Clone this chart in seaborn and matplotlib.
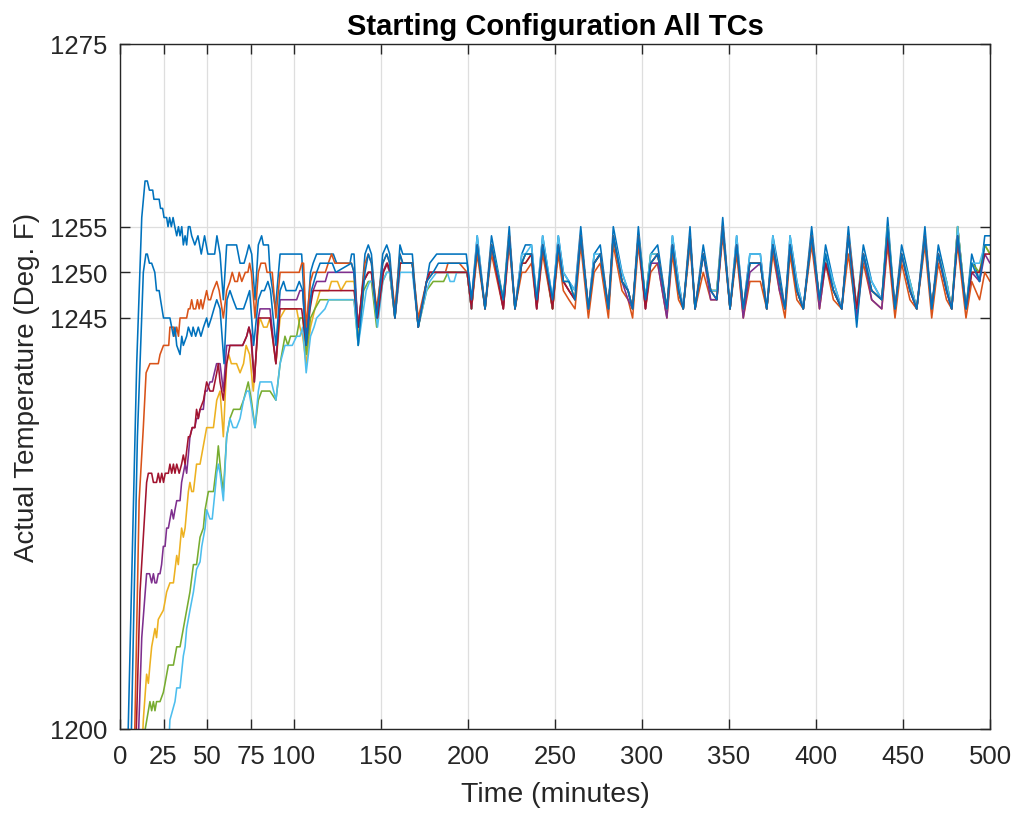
import matplotlib
matplotlib.use("Agg")
import matplotlib.pyplot as plt
import seaborn as sns
import pandas as pd

# ---------------- data ----------------
SERIES = ["TC1", "TC2", "TC3", "TC4", "TC5", "TC6", "TC7", "TC8"]
COLORS = ["#0072BD", "#D95319", "#EDB120", "#7E2F8E", "#77AC30", "#4DBEEE", "#A2142F", "#0072BD"]

X_TICKS = [0, 25, 50, 75, 100, 150, 200, 250, 300, 350, 400, 450, 500]
Y_TICKS = [1200, 1245, 1250, 1255, 1275]

# start-up portion (time, temperature)
TC1_EARLY = [(3.5,1190),(9.6,1240),(12.5,1256),(14.4,1260),(15.7,1260),(16.9,1259),(18.8,1259),(19.5,1258),(22.5,1258),
             (23.3,1257),(24.5,1257),(25.3,1256),(26.8,1256),(27.6,1255),(28.5,1256),(29.5,1255),(30.5,1256),(31.5,1255),
             (32.6,1254),(33.6,1255),(34.5,1254),(35.5,1255),(36.4,1253),(37.4,1254),(38.3,1253),(39.3,1255),(40.2,1255),
             (41.2,1254),(43,1253),(44.8,1254),(46.7,1252),(48.6,1254),(50.5,1252),(54.4,1252),(55.7,1254),(57.5,1252),
             (59.4,1247),(61.3,1253),(67,1253),(69,1251),(71.3,1251),(72.8,1252),(74.1,1253),(75.7,1252),(77.6,1247),
             (79.5,1253),(81.4,1254),(82.4,1253),(85.3,1253),(86.2,1250),(89.3,1246),(92,1252),(104.4,1252),(107,1243),
             (109.5,1250),(111,1251),(113,1252),(122.6,1252),(124.5,1251),(132.2,1251),(133.1,1252),(134.5,1252),
             (136.9,1243),(140.8,1252),(142.7,1253),(144.5,1252),(147.5,1245),(151,1252),(153.3,1253),(155,1252),
             (158,1245),(160.9,1253),(162.5,1252),(168,1252),(171.4,1244),(176.2,1249),(178,1251),(182,1252),(199,1252)]
TC2_EARLY = [(7.5,1190),(11,1225),(13.4,1233),(15,1239),(17.2,1240),(22,1240),(23,1241),(25,1242),(28,1242),(28.7,1244),
             (30.7,1244),(31.6,1243),(32.6,1244),(33.6,1243),(34.5,1245),(38.3,1245),(39.3,1246),(40.2,1246),(41.2,1247),
             (42.2,1246),(43.5,1246),(44.5,1247),(45.5,1246),(46.5,1247),(47.5,1246),(48.6,1247),(49.8,1248),(50.8,1247),
             (52,1247),(53.5,1248),(55.6,1249),(57,1248),(59.4,1245),(61.3,1248),(63.2,1249),(64.5,1250),(66,1249),
             (67.5,1249),(68.5,1250),(70,1249),(72,1250),(73.5,1250),(74.5,1251),(75.5,1250),(77.6,1245),(79.5,1250),
             (81,1251),(83.5,1251),(84.5,1250),(87.5,1250),(89.6,1245),(92,1250),(103,1250),(104.5,1251),(105.5,1251),
             (107,1244),(109.5,1249),(111,1250),(118,1250),(119.7,1251),(121.6,1252),(123.5,1251),(133,1251),
             (134.5,1250),(136.9,1244),(140.8,1251),(142.7,1252),(144.5,1251),(147.5,1246),(151,1251),(153.3,1252),
             (155,1251),(158,1246),(160.9,1252),(162.5,1251),(168,1251),(171.4,1245),(176.2,1249),(180,1250),(187,1250),
             (188.5,1251),(195,1251),(199.5,1250)]
TC3_EARLY = [(11,1190),(13.4,1201),(15.3,1206),(16.3,1205),(17.2,1207),(18.2,1209),(20.1,1211),(21,1210),(22,1212),
             (24.9,1213),(25.9,1214),(26.8,1215),(28.7,1216),(30.7,1216),(32.6,1219),(33.5,1218),(35.4,1222),(36.4,1221),
             (37.4,1222),(39.3,1226),(40.2,1227),(41.2,1226),(42.2,1226),(44,1229),(46,1229),(47.9,1231),(49.8,1233),
             (53.7,1233),(55.6,1236),(57.5,1237),(59.4,1232),(61.3,1240),(62.5,1241),(64,1240),(67,1240),(69,1239),
             (71,1240),(72.5,1242),(74.5,1241),(76.6,1237),(79.5,1244),(80.5,1245),(82.5,1244),(84.5,1244),(86.2,1245),
             (89.6,1240),(92,1245),(95,1246),(101.5,1246),(103.4,1244),(105,1243),(107,1240),(109.5,1244),(112,1246),
             (115,1248),(120,1248),(121.5,1249),(125,1249),(127,1248),(130,1249),(134.5,1249),(136.9,1243),(140,1249),
             (142.7,1250),(144.5,1250),(147.5,1245),(151,1250),(153.3,1251),(155,1250),(158,1245),(161,1251),(168,1251),
             (171.4,1244),(176.2,1249),(178,1250),(199.5,1250)]
TC4_EARLY = [(9,1190),(12.5,1210),(15.3,1217),(17,1217),(18.2,1216),(19.2,1217),(20.1,1216),(21,1216),(22,1217),(23,1217),
             (23.9,1218),(24.9,1220),(25.9,1220),(26.8,1222),(27.8,1222),(29.7,1224),(30.7,1223),(31.6,1224),(32.6,1225),
             (34.5,1225),(35.4,1227),(36.4,1228),(37.4,1229),(38.3,1228),(39.3,1230),(40.2,1232),(41.5,1233),(43,1233),
             (44,1234),(45,1234),(46,1235),(47.9,1235),(48.9,1237),(50,1237),(51.7,1238),(53,1238),(55.5,1240),
             (57.5,1240),(59.4,1237),(61.3,1242),(70.5,1242),(72.8,1243),(74.1,1244),(75.5,1243),(77.2,1238),(79.5,1245),
             (80.5,1246),(86.2,1246),(89.6,1240),(92,1247),(101.5,1247),(103.4,1248),(105,1248),(107,1242),(109.2,1247),
             (111,1248),(113,1249),(118,1249),(119.5,1250),(134.5,1250),(136.9,1244),(140,1249),(142.7,1250),(144.5,1250),
             (147.5,1245),(151,1250),(153.3,1251),(155,1250),(158,1245),(161,1251),(168,1251),(171.4,1244),(176.2,1249),
             (178,1250),(199.5,1250)]
TC5_EARLY = [(12,1190),(14.5,1200),(16.3,1202),(17.2,1203),(18.2,1202),(19.2,1203),(20.1,1202),(21,1203),(23,1203),
             (24.9,1204),(25.9,1205),(27.8,1207),(30.7,1207),(32.6,1209),(34.5,1209),(36.4,1211),(38.3,1213),(40.2,1215),
             (42.2,1218),(44,1218),(46,1221),(47.9,1222),(48.9,1224),(50.8,1226),(53.7,1226),(55.6,1229),(56.5,1231),
             (58,1228),(59.4,1226),(61.3,1232),(63.2,1234),(65.2,1235),(69,1235),(71,1236),(73.7,1238),(75.5,1236),
             (77.6,1233),(79.5,1236),(81.4,1237),(86.2,1237),(89.6,1236),(92,1240),(94.8,1243),(96.5,1242),(98,1243),
             (101.5,1243),(103.4,1245),(105,1245),(107,1241),(109.5,1245),(112,1246),(115,1247),(134.5,1247),
             (136.9,1242),(140,1248),(142.7,1249),(144.5,1249),(147.5,1244),(151,1249),(153.3,1250),(155,1250),(158,1245),
             (161,1251),(168,1251),(171.4,1244),(176.2,1248),(180,1249),(186,1249),(188.5,1250),(199.5,1250)]
TC6_EARLY = [(26,1190),(28.7,1201),(31.6,1203),(32.6,1204.5),(34.5,1204.5),(36.4,1208),(37.4,1209),(38.3,1211),(40.2,1213),
             (42.2,1215),(44,1217.5),(46,1218.3),(47,1220),(48.9,1222),(49.8,1224),(51.7,1223),(53,1223),(54.6,1226),
             (55.6,1228),(56.5,1229),(57.5,1228),(59.4,1225),(61.3,1232),(63.2,1234),(65,1233),(67,1233),(69,1234),
             (71,1236),(72.8,1237),(74.1,1237),(77.6,1233),(79.5,1237),(80.5,1238),(87,1238),(89.6,1236),(92,1240),
             (94.8,1242),(99,1242),(101.5,1243),(103.4,1243),(105,1244),(107,1239),(109.5,1243),(111.5,1244),(113,1245),
             (117.8,1246),(120,1247),(134.5,1247),(136.9,1242),(140,1246),(141.5,1248),(143.5,1249),(145,1249),(148,1244),
             (151,1249),(153.3,1250),(155,1250),(158,1245),(161,1250),(168,1250),(171.4,1244),(176.2,1248),(178,1249),
             (182,1250),(188,1250),(189.7,1249),(192,1249),(193.5,1250),(199.5,1250)]
TC7_EARLY = [(8,1190),(11.5,1215),(15.3,1227),(16.3,1228),(18.2,1228),(19.2,1227),(21,1227),(22,1228),(23,1227),(24,1228),
             (25,1227),(26,1228),(27.8,1228),(28.7,1229),(29.7,1228),(30.7,1229),(31.6,1228),(32.6,1229),(34,1228),
             (35.4,1229),(36.4,1230),(37.4,1229),(39.3,1232),(40.2,1232),(41.5,1233),(43,1233),(44,1235),(45,1234),
             (46,1235),(48,1236),(49.8,1238),(51.7,1237),(53.5,1237),(55.6,1239),(56.5,1240),(57.5,1238),(59.4,1236),
             (61.3,1240),(63.2,1242),(70.5,1242),(72.8,1243),(74.1,1244),(75.2,1243),(77.2,1238),(79.5,1245),(86.2,1245),
             (89.6,1240),(92,1246),(104.4,1246),(107,1242),(109.2,1246),(111,1248),(134.5,1248),(136.9,1244),
             (139.8,1249),(142.7,1250),(144.5,1250),(148,1245),(151.4,1250),(153.7,1251),(155.5,1250),(158,1245),
             (161,1251),(168,1251),(171.4,1244),(176.2,1249),(178,1250),(199.5,1250)]
TC8_EARLY = [(5.5,1190),(10,1232),(13.4,1250),(14.9,1252),(15.7,1252),(16.9,1251),(18.2,1251),(20,1250),(21,1248),
             (22.5,1248),(23.3,1247),(25,1245),(28.7,1245),(29.7,1244),(30.7,1243),(31.6,1244),(32.6,1242),(34.5,1241),
             (35.5,1243),(36.4,1242),(38.3,1243),(39.3,1244),(41.2,1243),(42,1244),(43.5,1243),(45,1244),(46.5,1243),
             (48,1244),(49.8,1245),(50.8,1244),(52.5,1245),(54,1246),(55.6,1247),(57.5,1246),(59.8,1240),(61.5,1247),
             (63.2,1248),(65,1247),(67,1246),(71,1246),(72.8,1247),(74.5,1248),(76.8,1242),(79.5,1247),(81.4,1248),
             (83,1248),(85,1249),(86.5,1248),(89.6,1242),(92,1248),(94,1249),(95.5,1248),(101,1248),(103,1249),(105,1248),
             (107,1242),(110,1248),(113,1250),(115,1251),(122,1251),(124,1250),(133,1251),(134.5,1250),(136.9,1242),
             (140.8,1250),(142.7,1252),(144.5,1251),(147.5,1245),(151,1251),(153.3,1252),(155,1251),(158,1245),
             (160.9,1252),(162.5,1251),(168,1251),(171.4,1244),(176.2,1249),(180,1250),(183,1251),(195,1251),(199.5,1251)]

# cycling portion: shared sample times, one value list per TC
CYCLE_TIME = [202, 205.3, 209.8, 213.5, 220.3, 223.7, 227, 230.9, 233, 236.5, 239.5, 242.9, 248.6, 251.9, 254.8, 258,
              261.5, 264.8, 269.2, 272.5, 276, 280.7, 283.5, 288.5, 292, 294.6, 297.9, 302, 305, 309, 314.3, 317.5,
              321, 323.7, 327.6, 330.5, 335.2, 339.5, 343, 346.4, 350.6, 354.4, 358.2, 362, 368, 371.7, 375.2, 379,
              382.2, 385.1, 389, 392.7, 397.5, 402, 405.5, 410, 414.8, 418.6, 423.4, 427.2, 432, 437.8, 441.2, 445.4,
              449.2, 454, 457.9, 462.6, 466.5, 470.3, 475, 478, 481.4, 486.2, 489.5, 494, 497, 500]
TC1_CYCLE = [1247,1254,1246,1254,1247,1255,1246,1252,1253,1253,1247,1254,1247,1254,1250,1249,1248,1255,1246,1252,
             1253,1246,1255,1250,1248,1246,1255,1247,1252,1253,1246,1254,1249,1246,1255,1246,1253,1248,1248,1256,
             1246,1254,1246,1252,1252,1246,1254,1250,1246,1254,1249,1246,1255,1247,1253,1249,1246,1255,1246,1253,
             1249,1247,1256,1246,1253,1249,1246,1255,1246,1253,1249,1246,1255,1246,1252,1249,1254,1254]
TC2_CYCLE = [1246,1252,1246,1252,1246,1253,1246,1250,1250,1251,1246,1252,1246,1252,1248,1247,1246,1253,1245,1250,
             1251,1245,1253,1248,1247,1245,1253,1246,1250,1251,1245,1252,1247,1246,1253,1246,1250,1247,1247,1254,
             1246,1252,1245,1249,1249,1246,1252,1248,1245,1252,1247,1246,1253,1246,1251,1247,1246,1252,1245,1251,
             1247,1246,1253,1245,1251,1247,1246,1253,1245,1251,1247,1246,1253,1245,1249,1247,1250,1249]
TC3_CYCLE = [1246,1253,1246,1253,1247,1254,1246,1251,1251,1252,1247,1253,1246,1253,1249,1248,1247,1254,1246,1251,
             1252,1246,1254,1249,1248,1246,1254,1247,1251,1252,1246,1253,1248,1246,1254,1246,1252,1248,1248,1255,
             1246,1253,1246,1251,1251,1246,1253,1249,1246,1253,1248,1246,1254,1247,1251,1248,1246,1254,1246,1252,
             1248,1247,1255,1246,1252,1248,1246,1254,1246,1252,1248,1246,1255,1246,1250,1250,1253,1252]
TC4_CYCLE = [1246,1253,1246,1253,1246,1254,1246,1251,1252,1252,1246,1253,1246,1253,1249,1248,1247,1254,1246,1251,
             1252,1246,1254,1249,1247,1246,1254,1246,1251,1251,1245,1253,1248,1246,1254,1246,1252,1247,1247,1255,
             1246,1253,1245,1250,1251,1246,1253,1248,1246,1253,1248,1246,1254,1246,1251,1248,1246,1254,1245,1252,
             1247,1246,1254,1246,1252,1248,1246,1254,1246,1252,1248,1246,1254,1246,1250,1249,1252,1251]
TC5_CYCLE = [1246,1253,1246,1253,1247,1254,1246,1251,1252,1252,1247,1253,1246,1253,1249,1249,1247,1254,1246,1251,
             1252,1246,1254,1249,1248,1246,1254,1247,1252,1252,1246,1253,1248,1246,1254,1246,1252,1248,1248,1255,
             1246,1253,1246,1251,1251,1246,1253,1249,1246,1253,1248,1246,1254,1247,1252,1248,1246,1254,1246,1252,
             1248,1247,1255,1246,1252,1249,1246,1254,1246,1252,1249,1246,1255,1246,1251,1250,1253,1252]
TC6_CYCLE = [1246,1254,1246,1253,1247,1254,1246,1252,1252,1253,1247,1254,1247,1254,1250,1249,1248,1254,1246,1252,
             1252,1246,1254,1250,1248,1246,1254,1247,1252,1252,1246,1254,1249,1246,1254,1246,1252,1248,1248,1255,
             1246,1254,1246,1252,1252,1246,1254,1249,1246,1254,1249,1246,1254,1247,1252,1249,1246,1254,1246,1252,
             1249,1247,1255,1246,1252,1249,1246,1254,1246,1252,1249,1246,1255,1246,1251,1251,1253,1253]
TC7_CYCLE = [1246,1253,1246,1253,1246,1254,1246,1251,1251,1252,1246,1253,1246,1253,1249,1248,1247,1254,1246,1251,
             1252,1246,1254,1249,1248,1246,1254,1246,1251,1252,1246,1253,1248,1246,1254,1246,1252,1248,1247,1255,
             1246,1253,1246,1251,1251,1246,1253,1249,1246,1253,1248,1246,1254,1247,1251,1248,1246,1254,1246,1252,
             1248,1247,1254,1246,1252,1248,1246,1254,1246,1252,1248,1246,1254,1246,1250,1250,1252,1252]
TC8_CYCLE = [1247,1253,1246,1253,1247,1254,1246,1251,1252,1252,1247,1253,1247,1253,1249,1249,1247,1254,1246,1251,
             1252,1246,1254,1249,1248,1246,1254,1247,1251,1252,1246,1253,1248,1246,1254,1246,1252,1248,1247,1255,
             1246,1253,1246,1251,1251,1246,1253,1249,1246,1253,1248,1246,1254,1247,1252,1248,1246,1254,1244,1252,
             1248,1247,1255,1246,1252,1248,1246,1254,1246,1252,1248,1246,1254,1246,1251,1249,1253,1253]

EARLY = [TC1_EARLY, TC2_EARLY, TC3_EARLY, TC4_EARLY, TC5_EARLY, TC6_EARLY, TC7_EARLY, TC8_EARLY]
CYCLE = [TC1_CYCLE, TC2_CYCLE, TC3_CYCLE, TC4_CYCLE, TC5_CYCLE, TC6_CYCLE, TC7_CYCLE, TC8_CYCLE]

rows = []
for name, early, cyc in zip(SERIES, EARLY, CYCLE):
    order = 0
    for t, v in early:
        rows.append((name, order, t, v)); order += 1
    for t, v in zip(CYCLE_TIME, cyc):
        rows.append((name, order, t, v)); order += 1
df = pd.DataFrame(rows, columns=["series", "order", "time", "temp"])

# ---------------- style ----------------
sns.set_theme(style="white")
FONT = ["Liberation Sans", "DejaVu Sans"]
plt.rcParams["font.family"] = FONT

fig = plt.figure(figsize=(10.18, 8.2), dpi=100)
ax = fig.add_axes([120/1018, 90/820, 870/1018, 685/820])

sns.lineplot(data=df, x="time", y="temp", hue="series", units="series", hue_order=SERIES,
             palette=dict(zip(SERIES, COLORS)), estimator=None, sort=False, legend=False,
             linewidth=1.15, ax=ax)

ax.set_xlim(0, 500)
ax.set_ylim(1200, 1275)
ax.set_xticks(X_TICKS)
ax.set_yticks(Y_TICKS)
ax.set_xticklabels([str(v) for v in X_TICKS])
ax.set_yticklabels([str(v) for v in Y_TICKS])
ax.grid(True, color="#dedede", linewidth=0.9)
ax.set_axisbelow(True)
for s in ax.spines.values():
    s.set_visible(True)
    s.set_color("#262626")
    s.set_linewidth(1.0)
ax.tick_params(axis="both", which="both", direction="in", length=7, width=1.0, color="#262626",
               top=True, right=True, bottom=True, left=True, labelsize=18.5, labelcolor="#262626")
ax.tick_params(axis="x", pad=11)
ax.tick_params(axis="y", pad=9)

ax.set_title("Starting Configuration All TCs", fontsize=21, fontweight="bold", pad=7, color="black")
ax.set_xlabel("Time (minutes)", fontsize=20.5, color="#262626", labelpad=9)
ax.set_ylabel("Actual Temperature (Deg. F)", fontsize=20, color="#262626", labelpad=7)

fig.savefig("out.png", dpi=100, facecolor="white")
